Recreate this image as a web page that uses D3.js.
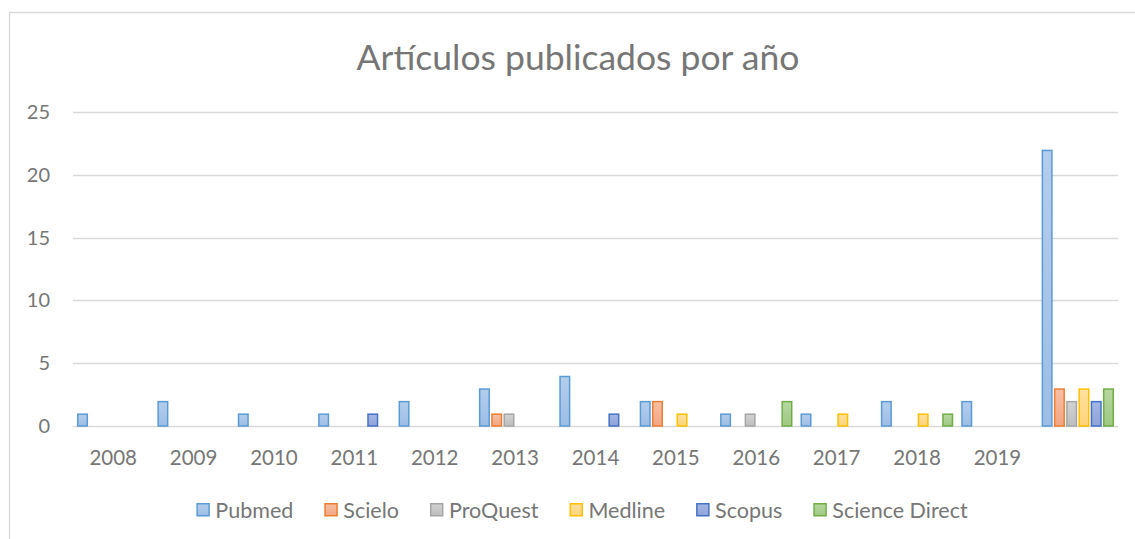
<!DOCTYPE html>
<html>
<head>
<meta charset="utf-8">
<script src="https://cdn.jsdelivr.net/npm/d3@7"></script>
<style>
  body { margin: 0; background: #fff; }
  svg { display: block; font-family: Lato, "Open Sans", sans-serif; }
</style>
</head>
<body>
<div id="chart"></div>
<script>
"use strict";
// data
const years = ["2008","2009","2010","2011","2012","2013","2014","2015","2016","2017","2018","2019","2020"];
const tickLabels = ["2008","2009","2010","2011","2012","2013","2014","2015","2016","2017","2018","2019",""];
const seriesNames = ["Pubmed","Scielo","ProQuest","Medline","Scopus","Science Direct"];
const pubmed        = [1,2,1,1,2,3,4,2,1,1,2,2,22];
const scielo        = [0,0,0,0,0,1,0,2,0,0,0,0,3];
const proquest      = [0,0,0,0,0,1,0,0,1,0,0,0,2];
const medline       = [0,0,0,0,0,0,0,1,0,1,1,0,3];
const scopus        = [0,0,0,1,0,0,1,0,0,0,0,0,2];
const scienceDirect = [0,0,0,0,0,0,0,0,2,0,1,0,3];
const yTicks = [0,5,10,15,20,25];

const seriesValues = [pubmed, scielo, proquest, medline, scopus, scienceDirect];
const strokeColors = ["#5b9bd5","#ed7d31","#a5a5a5","#ffc000","#4472c4","#70ad47"];
const fillTop      = ["#b4cdec","#f7bfa4","#d2d2d2","#ffe0a0","#a5b6e3","#b6d7a0"];
const fillBottom   = ["#9dbde6","#f2a683","#bdbdbd","#ffd479","#8fa3da","#9dc982"];

const W = 1135, H = 539;
const plotLeft = 73, plotRight = 1118, plotTop = 112, plotBottom = 426;
const textColor = "#767676";

const svg = d3.select("#chart").append("svg").attr("width", W).attr("height", H);

// chart frame
svg.append("path")
  .attr("d", `M9.5,${H} L9.5,12.5 L${W},12.5`)
  .attr("fill","none").attr("stroke","#d9d9d9").attr("stroke-width",1.3);

svg.append("text")
  .attr("x", 578).attr("y", 70)
  .attr("text-anchor","middle")
  .attr("font-size", 35.5)
  .attr("fill", textColor)
  .text("Artículos publicados por año");

const defs = svg.append("defs");
seriesNames.forEach((n, i) => {
  const g = defs.append("linearGradient").attr("id","grad"+i)
    .attr("x1",0).attr("y1",0).attr("x2",0).attr("y2",1);
  g.append("stop").attr("offset","0%").attr("stop-color", fillTop[i]);
  g.append("stop").attr("offset","100%").attr("stop-color", fillBottom[i]);
});

const x = d3.scaleBand().domain(years).range([plotLeft, plotRight]).padding(0);
const x1 = d3.scaleBand().domain(seriesNames).range([4, x.bandwidth() - 4]).paddingInner(0.1);
const y = d3.scaleLinear().domain([0, 25]).range([plotBottom, plotTop]);

// gridlines
svg.append("g").selectAll("line").data(yTicks).join("line")
  .attr("x1", plotLeft).attr("x2", plotRight)
  .attr("y1", d => Math.round(y(d)) + 0.5).attr("y2", d => Math.round(y(d)) + 0.5)
  .attr("stroke","#d9d9d9").attr("stroke-width",1.3);

const yAxis = svg.append("g").attr("transform", `translate(${plotLeft - 23},0)`)
  .call(d3.axisLeft(y).tickValues(yTicks).tickSize(0).tickPadding(0));
yAxis.select(".domain").remove();
yAxis.selectAll("text").attr("font-size",20).attr("fill",textColor)
  .attr("font-family","Lato, 'Open Sans', sans-serif");

const xAxis = svg.append("g").attr("transform", `translate(0,${plotBottom})`)
  .call(d3.axisBottom(x).tickFormat((d, i) => tickLabels[i]).tickSize(0).tickPadding(24));
xAxis.select(".domain").remove();
xAxis.selectAll("text").attr("font-size",20.5).attr("fill",textColor)
  .attr("font-family","Lato, 'Open Sans', sans-serif");

// bars
const groups = svg.append("g").selectAll("g").data(years).join("g")
  .attr("transform", d => `translate(${x(d)},0)`);
groups.selectAll("rect")
  .data((d, yi) => seriesNames.map((s, si) => ({s, si, v: seriesValues[si][yi]})).filter(e => e.v > 0))
  .join("rect")
  .attr("x", d => x1(d.s) + 0.75)
  .attr("width", x1.bandwidth() - 1.5)
  .attr("y", d => y(d.v) + 0.75)
  .attr("height", d => y(0) - y(d.v) - 0.75)
  .attr("fill", d => `url(#grad${d.si})`)
  .attr("stroke", d => strokeColors[d.si])
  .attr("stroke-width", 1.5);

// legend
const legend = svg.append("g");
const legendGap = 31;
let lx = 0;
seriesNames.forEach((n, i) => {
  const it = legend.append("g");
  it.append("rect").attr("x", lx + 0.75).attr("y", 503.75).attr("width", 12).attr("height", 12)
    .attr("fill", `url(#grad${i})`).attr("stroke", strokeColors[i]).attr("stroke-width", 1.5);
  const t = it.append("text").attr("x", lx + 19).attr("y", 518)
    .attr("font-size", 21.5).attr("fill", textColor).text(n);
  lx += 19 + t.node().getComputedTextLength() + legendGap;
});
const legendWidth = lx - legendGap;
legend.attr("transform", `translate(${582 - legendWidth / 2},0)`);
</script>
</body>
</html>
